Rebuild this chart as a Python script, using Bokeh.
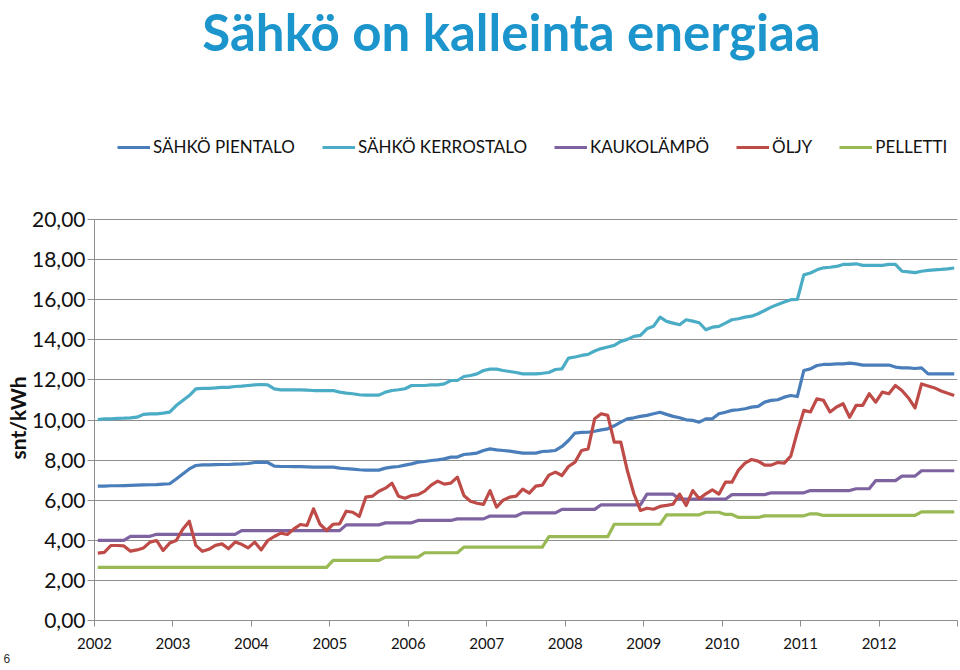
import numpy as np
from bokeh.plotting import figure
from bokeh.models import Legend, LegendItem, Label, Title, FixedTicker, Range1d
from bokeh.embed import file_html
from bokeh.resources import INLINE

# ---------------- data (snt/kWh, monthly Jan 2002 - Dec 2012) ----------------
title_text = "Sähkö on kalleinta energiaa"
y_title = "snt/kWh"
slide_number = "6"
years = list(range(2002, 2014))
year_labels = [str(y) for y in range(2002, 2013)] + [""]
y_ticks = [0, 2, 4, 6, 8, 10, 12, 14, 16, 18, 20]
y_tick_labels = ["0,00", "2,00", "4,00", "6,00", "8,00", "10,00",
                 "12,00", "14,00", "16,00", "18,00", "20,00"]

series_names = ["SÄHKÖ PIENTALO", "SÄHKÖ KERROSTALO", "KAUKOLÄMPÖ", "ÖLJY", "PELLETTI"]

sahko_pientalo = [
    6.70, 6.70, 6.72, 6.72, 6.73, 6.74, 6.75, 6.76, 6.77, 6.78, 6.80, 6.82,
    7.06, 7.31, 7.56, 7.73, 7.76, 7.76, 7.77, 7.78, 7.78, 7.80, 7.81, 7.83,
    7.88, 7.90, 7.88, 7.70, 7.68, 7.68, 7.67, 7.67, 7.66, 7.65, 7.65, 7.65,
    7.65, 7.60, 7.57, 7.55, 7.52, 7.50, 7.50, 7.50, 7.60, 7.65, 7.68, 7.75,
    7.81, 7.90, 7.93, 7.98, 8.01, 8.06, 8.15, 8.15, 8.28, 8.31, 8.35, 8.48,
    8.56, 8.51, 8.48, 8.45, 8.40, 8.35, 8.35, 8.35, 8.43, 8.45, 8.48, 8.68,
    8.98, 9.35, 9.38, 9.39, 9.44, 9.51, 9.56, 9.71, 9.89, 10.06, 10.11, 10.18,
    10.23, 10.31, 10.39, 10.28, 10.18, 10.11, 10.01, 9.98, 9.89, 10.06, 10.06, 10.31,
    10.39, 10.48, 10.51, 10.56, 10.64, 10.68, 10.89, 10.98, 11.01, 11.14, 11.22, 11.17,
    12.47, 12.55, 12.72, 12.77, 12.77, 12.80, 12.80, 12.84, 12.80, 12.74, 12.74, 12.74,
    12.74, 12.74, 12.64, 12.60, 12.60, 12.57, 12.60, 12.30, 12.30, 12.30, 12.30, 12.30,
]

sahko_kerrostalo = [
    10.02, 10.06, 10.06, 10.08, 10.09, 10.11, 10.14, 10.28, 10.31, 10.31, 10.34, 10.39,
    10.72, 10.97, 11.22, 11.55, 11.58, 11.58, 11.60, 11.63, 11.63, 11.67, 11.69, 11.72,
    11.75, 11.77, 11.75, 11.55, 11.50, 11.50, 11.50, 11.50, 11.49, 11.47, 11.47, 11.47,
    11.47, 11.39, 11.34, 11.31, 11.26, 11.24, 11.24, 11.24, 11.39, 11.47, 11.51, 11.56,
    11.72, 11.72, 11.72, 11.75, 11.75, 11.80, 11.97, 11.97, 12.17, 12.22, 12.30, 12.47,
    12.54, 12.54, 12.47, 12.42, 12.37, 12.30, 12.30, 12.30, 12.33, 12.37, 12.52, 12.55,
    13.09, 13.14, 13.22, 13.27, 13.44, 13.56, 13.64, 13.72, 13.92, 14.02, 14.17, 14.22,
    14.55, 14.67, 15.13, 14.92, 14.83, 14.75, 15.00, 14.93, 14.85, 14.50, 14.63, 14.67,
    14.83, 15.00, 15.05, 15.13, 15.18, 15.30, 15.46, 15.63, 15.76, 15.88, 16.00, 16.01,
    17.24, 17.33, 17.49, 17.59, 17.62, 17.66, 17.76, 17.76, 17.79, 17.71, 17.71, 17.71,
    17.71, 17.76, 17.76, 17.42, 17.39, 17.35, 17.42, 17.46, 17.49, 17.51, 17.54, 17.58,
]

kaukolampo = [
    4.00, 4.00, 4.00, 4.00, 4.00, 4.20, 4.20, 4.20, 4.20, 4.30, 4.30, 4.30,
    4.30, 4.30, 4.30, 4.30, 4.30, 4.30, 4.30, 4.30, 4.30, 4.30, 4.48, 4.48,
    4.48, 4.48, 4.48, 4.48, 4.48, 4.48, 4.48, 4.48, 4.48, 4.48, 4.48, 4.48,
    4.48, 4.48, 4.77, 4.77, 4.77, 4.77, 4.77, 4.77, 4.87, 4.87, 4.87, 4.87,
    4.87, 4.99, 4.99, 4.99, 4.99, 4.99, 4.99, 5.07, 5.07, 5.07, 5.07, 5.07,
    5.21, 5.21, 5.21, 5.21, 5.21, 5.37, 5.37, 5.37, 5.37, 5.37, 5.37, 5.54,
    5.54, 5.54, 5.54, 5.54, 5.54, 5.77, 5.77, 5.77, 5.77, 5.77, 5.77, 5.77,
    6.30, 6.30, 6.30, 6.30, 6.30, 6.05, 6.05, 6.05, 6.05, 6.05, 6.05, 6.05,
    6.05, 6.28, 6.28, 6.28, 6.28, 6.28, 6.28, 6.37, 6.37, 6.37, 6.37, 6.37,
    6.37, 6.48, 6.48, 6.48, 6.48, 6.48, 6.48, 6.48, 6.57, 6.57, 6.57, 6.98,
    6.98, 6.98, 6.98, 7.20, 7.20, 7.20, 7.47, 7.47, 7.47, 7.47, 7.47, 7.47,
]

oljy = [
    3.36, 3.40, 3.74, 3.74, 3.72, 3.46, 3.52, 3.62, 3.91, 3.99, 3.49, 3.86,
    3.99, 4.55, 4.95, 3.75, 3.45, 3.55, 3.75, 3.82, 3.58, 3.91, 3.80, 3.62,
    3.91, 3.52, 3.99, 4.19, 4.36, 4.29, 4.57, 4.79, 4.74, 5.57, 4.80, 4.49,
    4.80, 4.82, 5.45, 5.40, 5.19, 6.15, 6.20, 6.45, 6.60, 6.85, 6.20, 6.10,
    6.23, 6.28, 6.45, 6.75, 6.95, 6.80, 6.85, 7.15, 6.23, 5.95, 5.85, 5.79,
    6.48, 5.65, 6.00, 6.15, 6.20, 6.55, 6.35, 6.70, 6.75, 7.25, 7.40, 7.23,
    7.68, 7.90, 8.48, 8.56, 10.06, 10.31, 10.23, 8.90, 8.90, 7.48, 6.32, 5.49,
    5.60, 5.55, 5.69, 5.74, 5.80, 6.30, 5.74, 6.48, 6.07, 6.32, 6.52, 6.30,
    6.90, 6.90, 7.50, 7.85, 8.03, 7.95, 7.75, 7.75, 7.88, 7.85, 8.20, 9.40,
    10.48, 10.40, 11.06, 10.98, 10.40, 10.65, 10.81, 10.14, 10.73, 10.73, 11.31, 10.89,
    11.39, 11.31, 11.72, 11.47, 11.10, 10.60, 11.80, 11.70, 11.60, 11.45, 11.33, 11.22,
]

pelletti = [
    2.65, 2.65, 2.65, 2.65, 2.65, 2.65, 2.65, 2.65, 2.65, 2.65, 2.65, 2.65,
    2.65, 2.65, 2.65, 2.65, 2.65, 2.65, 2.65, 2.65, 2.65, 2.65, 2.65, 2.65,
    2.65, 2.65, 2.65, 2.65, 2.65, 2.65, 2.65, 2.65, 2.65, 2.65, 2.65, 2.65,
    3.00, 3.00, 3.00, 3.00, 3.00, 3.00, 3.00, 3.00, 3.16, 3.16, 3.16, 3.16,
    3.16, 3.16, 3.38, 3.38, 3.38, 3.38, 3.38, 3.38, 3.66, 3.66, 3.66, 3.66,
    3.66, 3.66, 3.66, 3.66, 3.66, 3.66, 3.66, 3.66, 3.66, 4.18, 4.18, 4.18,
    4.18, 4.18, 4.18, 4.18, 4.18, 4.18, 4.18, 4.80, 4.80, 4.80, 4.80, 4.80,
    4.80, 4.80, 4.80, 5.27, 5.27, 5.27, 5.27, 5.27, 5.27, 5.40, 5.40, 5.40,
    5.29, 5.29, 5.14, 5.14, 5.14, 5.14, 5.22, 5.22, 5.22, 5.22, 5.22, 5.22,
    5.22, 5.32, 5.32, 5.24, 5.24, 5.24, 5.24, 5.24, 5.24, 5.24, 5.24, 5.24,
    5.24, 5.24, 5.24, 5.24, 5.24, 5.24, 5.42, 5.42, 5.42, 5.42, 5.42, 5.42,
]

series_values = [sahko_pientalo, sahko_kerrostalo, kaukolampo, oljy, pelletti]
series_colors = ["#4A7EBB", "#4BACC6", "#7F63A1", "#BE4B48", "#98B954"]

# monthly positions (middle of each month)
month_index = np.arange(len(sahko_pientalo))
x_vals = 2002 + (month_index + 0.5) / 12.0

FONT = "Lato"
GRID = "#8E8E8E"

# frame: x 94..957, y 0..620 ; value 20 sits at y=219 (401 px for 0..20)
FRAME_H = 620
Y_TOP = 20 * FRAME_H / 401.0

p = figure(width=958, height=670, output_backend="svg", toolbar_location=None,
           x_range=Range1d(2002, 2013), y_range=Range1d(0, Y_TOP),
           min_border_left=94, min_border_right=1, min_border_top=0,
           min_border_bottom=50)
p.outline_line_color = None
p.background_fill_color = "white"
p.border_fill_color = "white"

# x axis
p.xaxis.ticker = FixedTicker(ticks=years)
p.xaxis.major_label_overrides = {y: lab for y, lab in zip(years, year_labels)}
p.xaxis.major_tick_out = 6
p.xaxis.major_tick_in = 0
p.xaxis.minor_tick_line_color = None
p.xaxis.axis_line_color = GRID
p.xaxis.major_tick_line_color = GRID
p.xaxis.major_label_text_font = FONT
p.xaxis.major_label_text_font_size = "15px"
p.xaxis.major_label_text_color = "#111111"
p.xaxis.major_label_standoff = 11

# y axis (line and ticks only over 0..20)
p.yaxis.bounds = (0, 20)
p.yaxis.ticker = FixedTicker(ticks=y_ticks)
p.yaxis.major_label_overrides = {t: lab for t, lab in zip(y_ticks, y_tick_labels)}
p.yaxis.major_tick_out = 7
p.yaxis.major_tick_in = 0
p.yaxis.minor_tick_line_color = None
p.yaxis.axis_line_color = GRID
p.yaxis.major_tick_line_color = GRID
p.yaxis.major_label_text_font = FONT
p.yaxis.major_label_text_font_size = "21px"
p.yaxis.major_label_text_color = "#111111"
p.yaxis.major_label_standoff = 2

p.xgrid.visible = False
p.ygrid.ticker = FixedTicker(ticks=y_ticks)
p.ygrid.grid_line_color = GRID
p.ygrid.grid_line_width = 1

renderers = []
for vals, col in zip(series_values, series_colors):
    r = p.line(x_vals, vals, line_color=col, line_width=3.2, line_join="round")
    renderers.append(r)

legend = Legend(items=[LegendItem(label=n, renderers=[r]) for n, r in zip(series_names, renderers)],
                orientation="horizontal", location=(23, 463),
                glyph_width=33, glyph_height=20, label_standoff=3, spacing=27,
                padding=0, margin=0, border_line_color=None,
                background_fill_alpha=0,
                label_text_font=FONT, label_text_font_size="17px",
                label_text_color="#111111")
p.add_layout(legend)

p.add_layout(Label(x=417, y=589, x_units="screen", y_units="screen", text=title_text,
                   text_font=FONT, text_font_style="bold", text_font_size="51px",
                   text_color="#1B95CB", text_align="center", text_baseline="middle"))

# vertical axis title in the left panel: its upper end placed 376 px below the top
p.add_layout(Title(text=y_title, align="right", offset=376,
                   text_font=FONT, text_font_size="21px", text_font_style="bold",
                   text_color="#111111", standoff=0), "left")

p.add_layout(Title(text=slide_number, align="left", offset=-91,
                   text_font="Liberation Sans", text_font_size="12px",
                   text_font_style="normal", text_color="#333333", standoff=0), "below")

open("out.html", "w").write(file_html(p, INLINE))
